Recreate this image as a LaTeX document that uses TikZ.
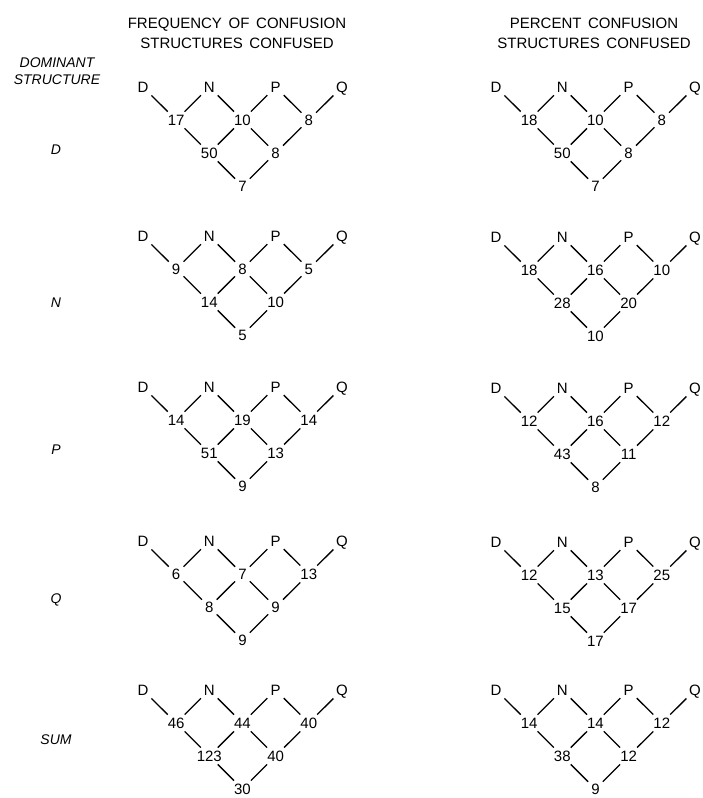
\documentclass[tikz,border=0pt]{standalone}
\usepackage{fontspec}
\setmainfont{Liberation Sans}

\begin{document}
\begin{tikzpicture}[x=1pt, y=-1pt,
  font=\fontsize{15}{18}\selectfont,
  val/.style={inner sep=3pt, text depth=0pt},
  link/.style={line width=1.3pt, black},
  rowlbl/.style={font=\fontsize{14}{17.5}\selectfont\itshape, align=center},
  ]
  \useasboundingbox (0,0) rectangle (703,798);

  %%% column headers %%%
  \node[align=center, font=\fontsize{15}{20}\selectfont] (hfreq) at (237,33)
    {FREQUENCY\, OF\, CONFUSION\\STRUCTURES\, CONFUSED};
  \node[align=center, font=\fontsize{15}{20}\selectfont] (hpct) at (594,33)
    {PERCENT\, CONFUSION\\STRUCTURES\, CONFUSED};

  %%% left-hand labels %%%
  \node[rowlbl] (hdom) at (57,71) {DOMINANT\\STRUCTURE};
  \foreach \rl/\ry in {D/150, N/303, P/450, Q/600, SUM/740}
    \node[rowlbl] (row-\rl) at (56,\ry) {\rl};

  %%% one lattice per panel: name/x/y/row2 (3)/row3 (2)/row4 %%%
  \foreach \pn/\px/\py/\na/\nb/\nc/\nd/\ne/\nf in {
      fD/143/87/17/10/8/50/8/7,     pD/496/87/18/10/8/50/8/7,
      fN/143/236/9/8/5/14/10/5,     pN/496/237/18/16/10/28/20/10,
      fP/143/387/14/19/14/51/13/9,  pP/496/388/12/16/12/43/11/8,
      fQ/143/541/6/7/13/8/9/9,      pQ/496/542/12/13/25/15/17/17,
      fS/143/690/46/44/40/123/40/30, pS/496/690/14/14/12/38/12/9} {
    \node[val] (\pn-D) at (\px,\py)          {D};
    \node[val] (\pn-N) at (\px+66.3,\py)     {N};
    \node[val] (\pn-P) at (\px+132.6,\py)    {P};
    \node[val] (\pn-Q) at (\px+198.9,\py)    {Q};
    \node[val] (\pn-a) at (\px+33.15,\py+33) {\na};
    \node[val] (\pn-b) at (\px+99.45,\py+33) {\nb};
    \node[val] (\pn-c) at (\px+165.75,\py+33) {\nc};
    \node[val] (\pn-d) at (\px+66.3,\py+66)  {\nd};
    \node[val] (\pn-e) at (\px+132.6,\py+66) {\ne};
    \node[val] (\pn-f) at (\px+99.45,\py+99) {\nf};
    \foreach \u/\v in {D/a, N/a, N/b, P/b, P/c, Q/c, a/d, b/d, b/e, c/e, d/f, e/f}
      \draw[link] (\pn-\u) -- (\pn-\v);
  }
\end{tikzpicture}
\end{document}
